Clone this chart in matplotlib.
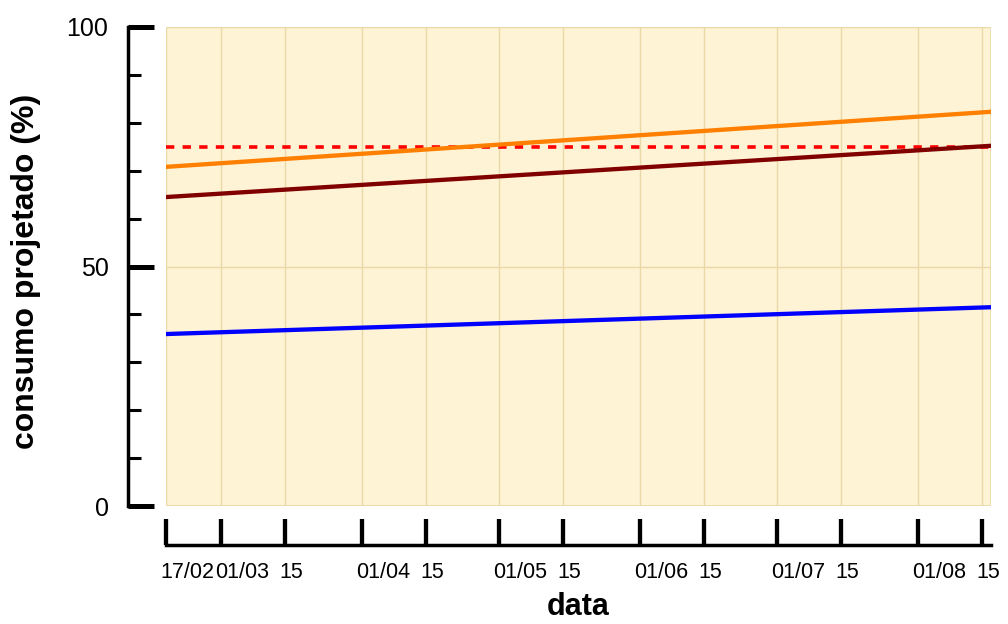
import matplotlib
matplotlib.use("Agg")
import matplotlib.pyplot as plt
import matplotlib.dates as mdates
import matplotlib.transforms as mtransforms
from matplotlib.ticker import MultipleLocator, FixedLocator
from matplotlib.patches import Rectangle
from datetime import date

plt.rcParams["font.family"] = ["Liberation Sans", "DejaVu Sans"]

# Data
x_range = [date(2023, 2, 17), date(2023, 8, 17)]

tick_dates = [
    date(2023, 2, 17), date(2023, 3, 1), date(2023, 3, 15),
    date(2023, 4, 1), date(2023, 4, 15), date(2023, 5, 1),
    date(2023, 5, 15), date(2023, 6, 1), date(2023, 6, 15),
    date(2023, 7, 1), date(2023, 7, 15), date(2023, 8, 1),
    date(2023, 8, 15),
]
tick_labels = [
    "17/02", "01/03", "15", "01/04", "15", "01/05", "15",
    "01/06", "15", "01/07", "15", "01/08", "15",
]

# projected consumption at start and end of the range
orange_line = [70.8, 82.3]
darkred_line = [64.5, 75.2]
blue_line = [35.9, 41.5]
limit_line = [75, 75]

# Plotting
fig = plt.figure(figsize=(10.08, 6.24), dpi=100)
ax = fig.add_axes([166 / 1008, 118 / 624, 825 / 1008, 479 / 624])
ax.set_facecolor("#FFF3D6")

ax.plot(x_range, limit_line, color="#FF0000", linewidth=2.6, dashes=(2.3, 2.3))
ax.plot(x_range, orange_line, color="#FF8000", linewidth=3.1)
ax.plot(x_range, darkred_line, color="#800000", linewidth=3.1)
ax.plot(x_range, blue_line, color="#0000FF", linewidth=3.1)

ax.set_xlim(mdates.date2num(x_range[0]), mdates.date2num(x_range[1]))
ax.set_ylim(0, 100)

ax.xaxis.set_major_locator(FixedLocator(mdates.date2num(tick_dates)))
ax.set_xticklabels(tick_labels)
ax.yaxis.set_major_locator(MultipleLocator(50))
ax.yaxis.set_minor_locator(MultipleLocator(10))

# Detached axes like the original
for side in ["top", "right"]:
    ax.spines[side].set_visible(False)
ax.spines["left"].set_position(("outward", 27.4))
ax.spines["bottom"].set_position(("outward", 28))
ax.spines["left"].set_linewidth(2.5)
ax.spines["bottom"].set_linewidth(2.5)

ax.tick_params(axis="x", which="major", direction="in", length=19, width=3.1,
               labelsize=15.5, pad=12)
ax.tick_params(axis="y", which="major", direction="in", length=19, width=3.6,
               labelsize=18, pad=14)
ax.tick_params(axis="y", which="minor", direction="in", length=9.5, width=2.2)

# x labels start just left of their tick
shift = mtransforms.ScaledTranslation(-5.5 / 100, 0, fig.dpi_scale_trans)
for lbl in ax.get_xticklabels():
    lbl.set_horizontalalignment("left")
    lbl.set_transform(lbl.get_transform() + shift)

ax.grid(True, which="major", color="#E8D9A6", linewidth=1)
ax.set_axisbelow(True)
ax.add_patch(Rectangle((0, 0), 1, 1, transform=ax.transAxes, fill=False,
                       edgecolor="#E8D9A6", linewidth=1.2, zorder=0.5))

ax.set_xlabel("data", fontsize=22, fontweight="bold", va="center")
ax.set_ylabel("consumo projetado (%)", fontsize=23, fontweight="bold", va="center")
ax.xaxis.set_label_coords(0.5, -0.21)
ax.yaxis.set_label_coords(-0.17, 0.49)

fig.savefig("out.png", dpi=100)
